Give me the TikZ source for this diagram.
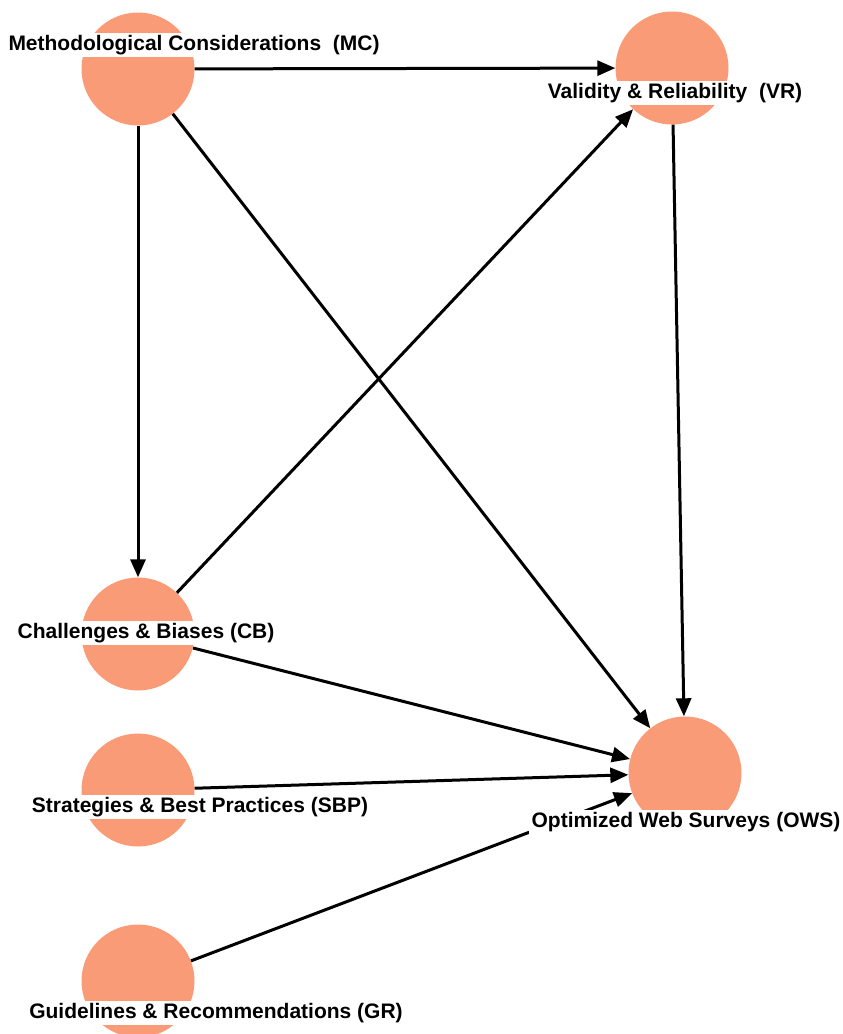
\documentclass[tikz,border=0pt]{standalone}
\usepackage{fontspec}
\setmainfont{Liberation Sans}
\usetikzlibrary{arrows.meta}
\definecolor{salmon}{RGB}{250,155,120}
\begin{document}
\begin{tikzpicture}[x=1pt,y=-1pt,
  ball/.style={circle,fill=salmon,draw=none,minimum size=113pt,inner sep=0pt},
  lbl/.style={fill=white,inner sep=2.5pt,font=\fontsize{21}{24}\selectfont\bfseries},
  edge/.style={line width=3pt,-{Triangle[length=18pt,width=15pt]}}]
\useasboundingbox (0,0) rectangle (843,1034);
\node[ball] (MC) at (138,69) {};
\node[ball] (VR) at (672,68) {};
\node[ball] (CB) at (138,634) {};
\node[ball] (SBP) at (138,790) {};
\node[ball] (OWS) at (685,773) {};
\node[ball] (GR) at (138,981) {};
\draw[edge] (MC) -- (VR);
\draw[edge] (MC) -- (CB);
\draw[edge] (MC) -- (OWS);
\draw[edge] (CB) -- (VR);
\draw[edge] (VR) -- (OWS);
\draw[edge] (CB) -- (OWS);
\draw[edge] (SBP) -- (OWS);
\draw[edge] (GR) -- (OWS);
\node[lbl] (tMC) at (194,45) {Methodological Considerations~ (MC)};
\node[lbl] (tVR) at (675,93) {Validity \& Reliability~ (VR)};
\node[lbl] (tCB) at (146,633) {Challenges \& Biases (CB)};
\node[lbl] (tSBP) at (200,807) {Strategies \& Best Practices (SBP)};
\node[lbl] (tOWS) at (686,822) {Optimized Web Surveys (OWS)};
\node[lbl] (tGR) at (216,1013) {Guidelines \& Recommendations (GR)};
\end{tikzpicture}
\end{document}
